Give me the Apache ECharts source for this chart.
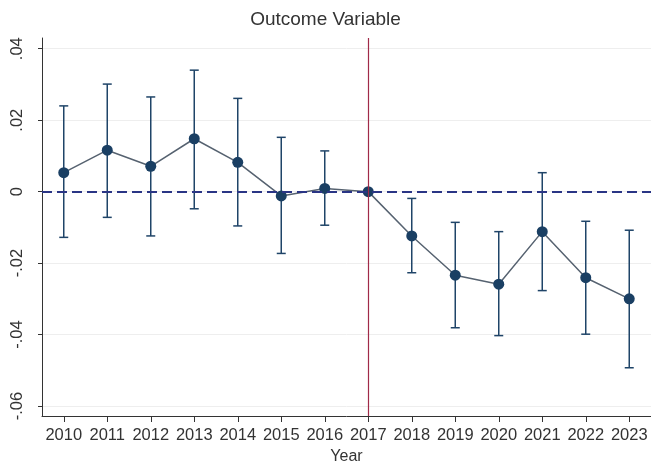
<!DOCTYPE html>
<html>
<head>
<meta charset="utf-8">
<script src="https://cdn.jsdelivr.net/npm/echarts@6/dist/echarts.min.js"></script>
<style>html,body{margin:0;padding:0;background:#fff;}#c{width:651px;height:462px;}</style>
</head>
<body>
<div id="c"></div>
<script>
var years = ['2010','2011','2012','2013','2014','2015','2016','2017','2018','2019','2020','2021','2022','2023'];
var coef  = [0.0053, 0.0116, 0.0071, 0.0148, 0.0082, -0.0012, 0.0009, 0, -0.0124, -0.0234, -0.0259, -0.0112, -0.0241, -0.0300];
var upper = [0.0240, 0.0301, 0.0265, 0.0340, 0.0261, 0.0152, 0.0114, 0, -0.0019, -0.0086, -0.0112, 0.0053, -0.0083, -0.0108];
var lower = [-0.0128, -0.0072, -0.0124, -0.0048, -0.0096, -0.0173, -0.0094, 0, -0.0227, -0.0381, -0.0403, -0.0277, -0.0399, -0.0493];
var yTickValues = [-0.06, -0.04, -0.02, 0, 0.02, 0.04];
var yTickLabels = ['-.06', '-.04', '-.02', '0', '.02', '.04'];
var refYear = '2017';

var ciData = years.map(function (y, i) { return [i, lower[i], upper[i]]; });
var FONT = 'Liberation Sans, Arial, sans-serif';

var chart = echarts.init(document.getElementById('c'));
chart.setOption({
  backgroundColor: '#ffffff',
  animation: false,
  title: {
    text: 'Outcome Variable', left: 'center', top: 5,
    textStyle: { fontFamily: FONT, fontSize: 19, fontWeight: 'normal', color: '#333' }
  },
  grid: { left: 42, right: 0, top: 38, bottom: 46, containLabel: false, outerBoundsMode: 'none' },
  xAxis: {
    type: 'category', data: years, boundaryGap: true,
    name: 'Year', nameLocation: 'middle', nameGap: 30,
    nameTextStyle: { fontFamily: FONT, fontSize: 16, color: '#333' },
    axisLine: { show: true, onZero: false, lineStyle: { color: '#333', width: 1 } },
    axisTick: { show: true, alignWithLabel: true, interval: 0, length: 6, lineStyle: { color: '#333', width: 1 } },
    axisLabel: { fontFamily: FONT, fontSize: 16.5, color: '#333', margin: 11, interval: 0 },
    splitLine: { show: false }
  },
  yAxis: {
    type: 'value', min: -0.0628, max: 0.043,
    axisLine: { show: true, lineStyle: { color: '#333', width: 1 } },
    axisTick: { show: true, length: 4, customValues: yTickValues, lineStyle: { color: '#333' } },
    axisLabel: {
      fontFamily: FONT, fontSize: 16.5, color: '#333', rotate: 90, margin: 16,
      customValues: yTickValues,
      formatter: function (v) {
        for (var i = 0; i < yTickValues.length; i++) {
          if (Math.abs(v - yTickValues[i]) < 1e-9) return yTickLabels[i];
        }
        return '';
      }
    },
    splitLine: { show: true, customValues: yTickValues, lineStyle: { color: '#eeeeee', width: 1 } }
  },
  series: [
    {
      type: 'custom', name: 'ci', data: ciData, z: 2,
      renderItem: function (params, api) {
        var x = api.value(0);
        var lo = api.coord([x, api.value(1)]);
        var hi = api.coord([x, api.value(2)]);
        var hw = 4.5;
        var st = { stroke: '#1f4468', lineWidth: 1.5 };
        return {
          type: 'group',
          children: [
            { type: 'line', shape: { x1: lo[0], y1: lo[1], x2: hi[0], y2: hi[1] }, style: st },
            { type: 'line', shape: { x1: lo[0] - hw, y1: lo[1], x2: lo[0] + hw, y2: lo[1] }, style: st },
            { type: 'line', shape: { x1: hi[0] - hw, y1: hi[1], x2: hi[0] + hw, y2: hi[1] }, style: st }
          ]
        };
      }
    },
    {
      type: 'line', name: 'coef', data: coef, z: 4,
      symbol: 'circle', symbolSize: 11,
      itemStyle: { color: '#1a3f63' },
      lineStyle: { color: '#566270', width: 1.5 },
      markLine: {
        silent: true, symbol: 'none', label: { show: false },
        data: [
          { yAxis: 0, lineStyle: { color: '#2a3585', type: [10, 5], width: 1.8 } },
          { xAxis: refYear, lineStyle: { color: '#a02a48', type: 'solid', width: 1.2 } }
        ]
      }
    }
  ]
});
</script>
</body>
</html>
